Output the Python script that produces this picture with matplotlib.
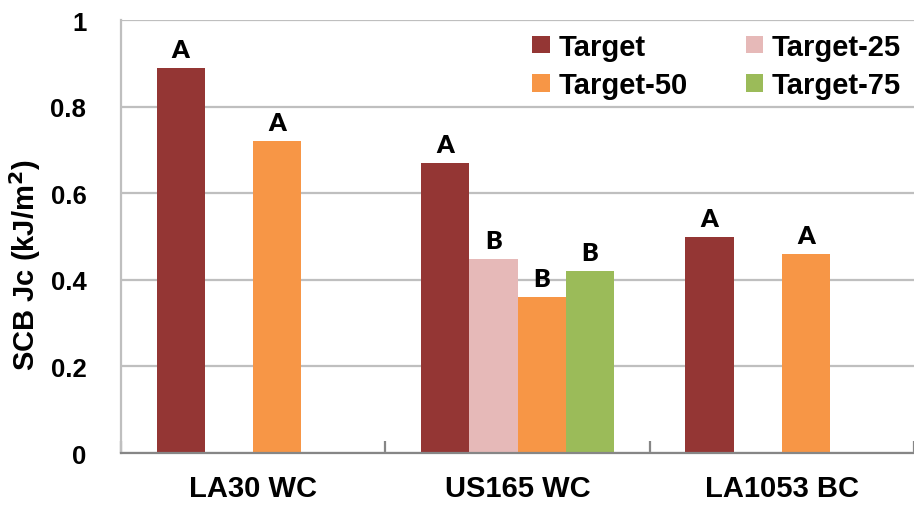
import numpy as np
import matplotlib
matplotlib.use("Agg")
import matplotlib.pyplot as plt

plt.rcParams['font.family'] = ['Liberation Sans', 'DejaVu Sans']
plt.rcParams['font.weight'] = 'bold'

categories = ["LA30 WC", "US165 WC", "LA1053 BC"]
series_names = ["Target", "Target-25", "Target-50", "Target-75"]
target = [0.89, 0.67, 0.50]
target_25 = [np.nan, 0.448, np.nan]
target_50 = [0.72, 0.36, 0.46]
target_75 = [np.nan, 0.42, np.nan]
letters_target = ["A", "A", "A"]
letters_25 = ["", "B", ""]
letters_50 = ["A", "B", "A"]
letters_75 = ["", "B", ""]
y_ticks = [0, 0.2, 0.4, 0.6, 0.8, 1.0]
y_tick_labels = ["0", "0.2", "0.4", "0.6", "0.8", "1"]

colors = ["#943634", "#E6B9B8", "#F79646", "#9BBB59"]
values = [target, target_25, target_50, target_75]
letters = [letters_target, letters_25, letters_50, letters_75]

W, H = 914, 506
fig = plt.figure(figsize=(W / 100, H / 100), dpi=100)
left_px, right_px, top_px, bottom_px = 121, 914, 21, 454
ax = fig.add_axes([left_px / W, 1 - bottom_px / H,
                   (right_px - left_px) / W, (bottom_px - top_px) / H])

cat_px = 268.0
x = np.arange(len(categories))
bw = 49.0 / cat_px

handles = []
for i, (vals, col, labs) in enumerate(zip(values, colors, letters)):
    pos = x + (i - 1.5) * bw
    h = ax.bar(pos, vals, width=bw, color=col, label=series_names[i],
               edgecolor='none', zorder=3)
    handles.append(h)
    for p, v, t in zip(pos, vals, labs):
        if t and not np.isnan(v):
            ax.text(p, v + 0.016, t, ha='center', va='bottom',
                    fontsize=18, fontweight='heavy',
                    family=['Lato', 'DejaVu Sans'], zorder=4)

ax.set_ylim(0, 1)
ax.set_xlim(-0.5, -0.5 + (right_px - left_px) / cat_px)
ax.set_yticks(y_ticks)
ax.set_yticklabels(y_tick_labels)
ax.yaxis.grid(True, color='#BFBFBF', linewidth=1.6, zorder=0)
ax.tick_params(axis='y', length=0, pad=25, labelsize=18.5)

ax.set_xticks(x)
ax.set_xticklabels(categories)
ax.tick_params(axis='x', which='major', length=0, pad=15, labelsize=21)
ax.set_xticks([-0.5, 0.5, 1.5, 2.5], minor=True)
ax.tick_params(axis='x', which='minor', direction='in', length=9,
               width=1.6, color='#868686')

for s in ['top', 'right']:
    ax.spines[s].set_visible(False)
ax.spines['left'].set_color('#BFBFBF')
ax.spines['left'].set_linewidth(1.6)
ax.spines['bottom'].set_color('#868686')
ax.spines['bottom'].set_linewidth(1.6)
ax.spines['bottom'].set_zorder(5)

fig.text(25 / W, 1 - 265 / H, "SCB Jc (kJ/m$^\\mathbf{2}$)", rotation=90,
         ha='center', va='center', fontsize=21, fontweight='bold')

# legend filled row by row: Target, Target-25 / Target-50, Target-75
order = [0, 2, 1, 3]
fig.legend([handles[k] for k in order], [series_names[k] for k in order],
           loc='upper left', bbox_to_anchor=(532 / W, 1 - 34 / H),
           ncol=2, frameon=False, fontsize=21, handlelength=0.6,
           handleheight=0.55, handletextpad=0.3, columnspacing=2.0,
           labelspacing=0.35, borderpad=0, borderaxespad=0)

fig.savefig("out.png", dpi=100)
